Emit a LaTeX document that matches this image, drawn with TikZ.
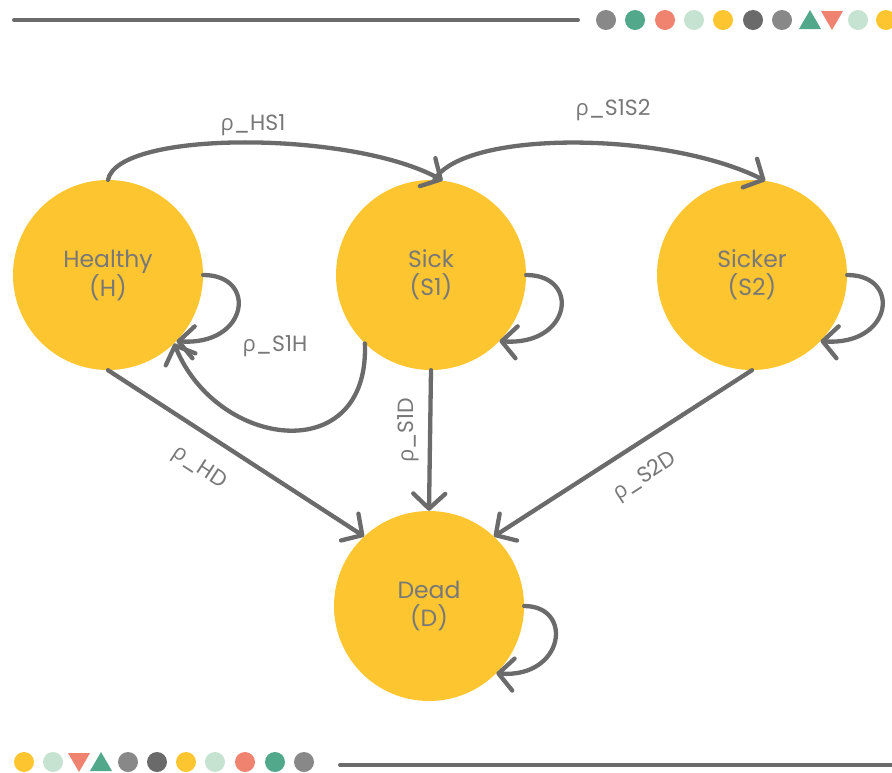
\documentclass[tikz,border=0pt]{standalone}
\usepackage{fontspec}
\setmainfont{Poppins}
\newfontfamily\grk{Open Sans}
\usetikzlibrary{arrows.meta}
\definecolor{stateyellow}{HTML}{FDC530}
\definecolor{linegray}{HTML}{6B6B6B}
\definecolor{textgray}{HTML}{787878}
\definecolor{dotgray}{HTML}{888888}
\definecolor{dotdark}{HTML}{6A6A6A}
\definecolor{dotgreen}{HTML}{52A88A}
\definecolor{dotsalmon}{HTML}{EF8370}
\definecolor{dotmint}{HTML}{C5E3D0}
\newcommand{\rh}{{\grk ρ}}
\begin{document}
\begin{tikzpicture}[x=1pt,y=-1pt,
  state/.style={circle,fill=stateyellow,minimum size=190pt,inner sep=0pt,
    text=textgray,font=\fontsize{23.5}{28}\selectfont,align=center},
  trans/.style={draw=linegray,line width=4.3pt,line cap=round,
    -{Straight Barb[length=15pt,width=32pt,line cap=round,line join=round]}},
  lbl/.style={text=textgray,font=\fontsize{22}{26}\selectfont,inner sep=0pt},
  rule/.style={draw=linegray,line width=4pt,line cap=round},
  dot/.style={circle,inner sep=0pt,minimum size=20pt,fill=#1},
]
\useasboundingbox (0,0) rectangle (892,772);
\fill[white] (0,0) rectangle (892,772);

% decorative rules and dots
\draw[rule] (14,20) -- (578,20);
\draw[rule] (340,765) -- (892,765);

\node[dot=dotgray]   (t1) at (606,20) {};
\node[dot=dotgreen]  (t2) at (635,20) {};
\node[dot=dotsalmon] (t3) at (665,20) {};
\node[dot=dotmint]   (t4) at (694,20) {};
\node[dot=stateyellow] (t5) at (723,20) {};
\node[dot=dotdark]   (t6) at (753,20) {};
\node[dot=dotgray]   (t7) at (782,20) {};
\fill[dotgreen]  (799,29) -- (821,29) -- (810,10) -- cycle;
\fill[dotsalmon] (821,11) -- (843,11) -- (832,30) -- cycle;
\node[dot=dotmint]   (t10) at (858,20) {};
\node[dot=stateyellow] (t11) at (886,20) {};

\node[dot=stateyellow] (b1) at (24,762) {};
\node[dot=dotmint]   (b2) at (53,762) {};
\fill[dotsalmon] (68,753) -- (90,753) -- (79,772) -- cycle;
\fill[dotgreen]  (90,771) -- (112,771) -- (101,752) -- cycle;
\node[dot=dotgray]   (b5) at (128,762) {};
\node[dot=dotdark]   (b6) at (157,762) {};
\node[dot=stateyellow] (b7) at (186,762) {};
\node[dot=dotmint]   (b8) at (215,762) {};
\node[dot=dotsalmon] (b9) at (245,762) {};
\node[dot=dotgreen]  (b10) at (275,762) {};
\node[dot=dotgray]   (b11) at (304,762) {};

% states
\node[state] (H)  at (108,275) {Healthy\\(H)};
\node[state] (S)  at (431,275) {Sick\\(S1)};
\node[state] (S2) at (752,275) {Sicker\\(S2)};
\node[state] (D)  at (429,606) {Dead\\(D)};

% transitions between states
\draw[trans] (H.90) .. controls +(10,-50) and +(-90,-50) .. (S.83);
\draw[trans] (S.88) .. controls +(30,-50) and +(-100,-50) .. (S2.82);
\draw[trans] (S.226) .. controls +(5,125) and +(43,106) .. (H.-46);
\draw[trans] (H.270) -- (D.133);
\draw[trans] (S.270) -- (D.90);
\draw[trans] (S2.270) -- (D.47);

% self loops
\draw[trans] (H.0) .. controls +(55,0) and +(72,5) .. (H.-44);
\draw[trans] (S.0) .. controls +(55,0) and +(72,5) .. (S.-44);
\draw[trans] (S2.0) .. controls +(55,0) and +(72,5) .. (S2.-44);
\draw[trans] (D.0) .. controls +(50,0) and +(68,5) .. (D.-45);

% transition labels
\node[lbl] (lHS1)  at (253,125) {\rh\_HS1};
\node[lbl] (lS1S2) at (613,110) {\rh\_S1S2};
\node[lbl] (lS1H)  at (275,346) {\rh\_S1H};
\node[lbl,rotate=-33] (lHD) at (199,468) {\rh\_HD};
\node[lbl,rotate=90] (lS1D) at (408,430) {\rh\_S1D};
\node[lbl,rotate=33] (lS2D) at (645,477) {\rh\_S2D};
\end{tikzpicture}
\end{document}
